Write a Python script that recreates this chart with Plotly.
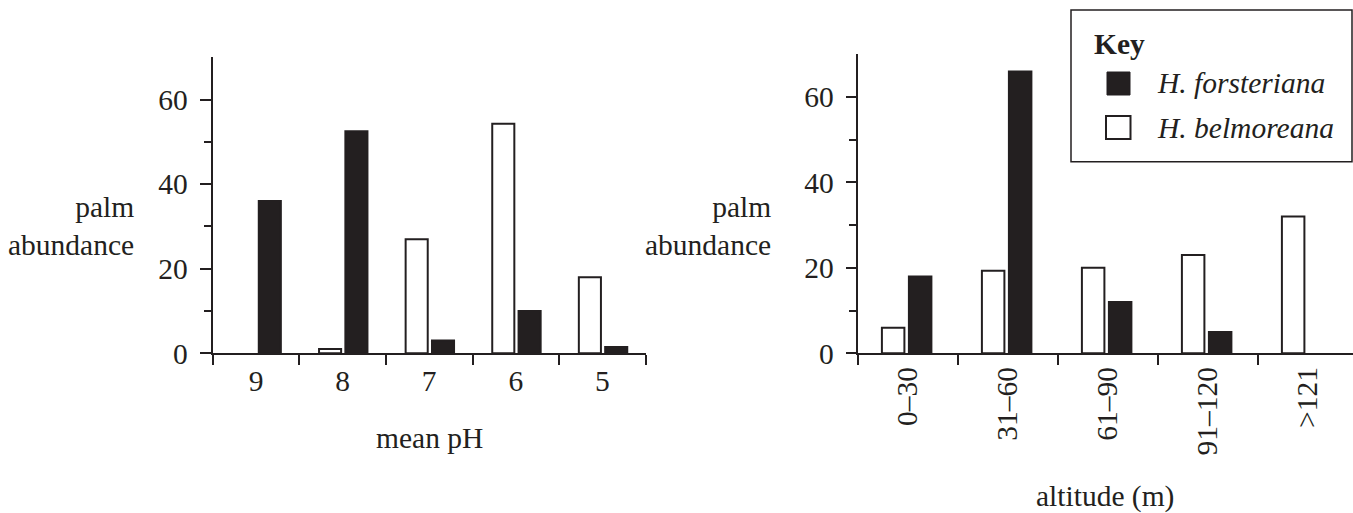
import plotly.graph_objects as go

# ---------------- data ----------------
ph_categories = ["9", "8", "7", "6", "5"]
ph_forsteriana = [36, 52.5, 3, 10, 1.5]
ph_belmoreana = [0, 1, 27, 54.3, 18]

alt_categories = ["0–30", "31–60", "61–90", "91–120", ">121"]
alt_forsteriana = [18, 66, 12, 5, 0]
alt_belmoreana = [6, 19.3, 20, 23, 32]

y_ticks = [0, 20, 40, 60]
y_minor = [10, 30, 50]

legend_title = "Key"
name_f = "H. forsteriana"
name_b = "H. belmoreana"

# ---------------- style ----------------
W, H = 1353, 513
INK = "#231f20"
FONT = "'Liberation Serif', 'Times New Roman', Times, 'DejaVu Serif', serif"
FS = 29.5


def px(x):
    return x / W


def py(y):
    return (H - y) / H


def outline(values):
    # no outline for empty (zero) bars
    return [0 if v == 0 else 2 for v in values]


fig = go.Figure()

# left chart bars
fig.add_trace(go.Bar(x=ph_categories, y=ph_belmoreana, xaxis="x", yaxis="y",
                     marker=dict(color="white", line=dict(color=INK, width=outline(ph_belmoreana))),
                     width=0.255, offset=-0.272, showlegend=False, name=name_b))
fig.add_trace(go.Bar(x=ph_categories, y=ph_forsteriana, xaxis="x", yaxis="y",
                     marker=dict(color=INK, line=dict(color=INK, width=outline(ph_forsteriana))),
                     width=0.255, offset=0.032, showlegend=False, name=name_f))
# right chart bars
fig.add_trace(go.Bar(x=alt_categories, y=alt_belmoreana, xaxis="x2", yaxis="y2",
                     marker=dict(color="white", line=dict(color=INK, width=outline(alt_belmoreana))),
                     width=0.225, offset=-0.258, showlegend=False, name=name_b))
fig.add_trace(go.Bar(x=alt_categories, y=alt_forsteriana, xaxis="x2", yaxis="y2",
                     marker=dict(color=INK, line=dict(color=INK, width=outline(alt_forsteriana))),
                     width=0.225, offset=0.012, showlegend=False, name=name_f))

tickfont = dict(family=FONT, size=FS, color=INK)

common_x = dict(type="category", tickson="boundaries", ticks="outside", ticklen=10,
                tickwidth=2, tickcolor=INK, showline=True, linewidth=2, linecolor=INK,
                showgrid=False, zeroline=False, tickfont=tickfont, fixedrange=True,
                automargin=False)
common_y = dict(range=[0, 70], tickvals=y_ticks, ticks="outside", ticklen=11,
                tickwidth=2, tickcolor=INK, showline=True, linewidth=2, linecolor=INK,
                showgrid=False, zeroline=False, tickfont=tickfont, ticklabelstandoff=6,
                minor=dict(tickvals=y_minor, ticks="outside", ticklen=7, tickwidth=2,
                           tickcolor=INK, showgrid=False),
                fixedrange=True, automargin=False)

fig.update_layout(
    width=W, height=H,
    margin=dict(l=0, r=0, t=0, b=0, pad=0, autoexpand=False),
    paper_bgcolor="white", plot_bgcolor="white",
    barmode="overlay",
    showlegend=False,
    font=dict(family=FONT, size=FS, color=INK),
    xaxis=dict(common_x, domain=[px(212.7), px(645.7)], range=[-0.5, 4.5], anchor="y"),
    yaxis=dict(common_y, domain=[py(353.3), py(57.3)], anchor="x"),
    xaxis2=dict(common_x, domain=[px(857.7), 1.0], range=[-0.5, 4.453], anchor="y2",
                tickangle=-90),
    yaxis2=dict(common_y, domain=[py(353.3), py(54.3)], anchor="x2", ticklen=10),
)

ann = []
ann.append(dict(text="palm<br>abundance", x=px(136), y=py(226), xref="paper", yref="paper",
                xanchor="right", yanchor="middle", align="right", showarrow=False))
ann.append(dict(text="palm<br>abundance", x=px(773), y=py(226), xref="paper", yref="paper",
                xanchor="right", yanchor="middle", align="right", showarrow=False))
ann.append(dict(text="mean pH", x=px(429), y=py(438), xref="paper", yref="paper",
                xanchor="center", yanchor="middle", showarrow=False))
ann.append(dict(text="altitude (m)", x=px(1105), y=py(496), xref="paper", yref="paper",
                xanchor="center", yanchor="middle", showarrow=False))
# key box
ann.append(dict(text="<b>" + legend_title + "</b>", x=px(1092), y=py(44), xref="paper", yref="paper",
                xanchor="left", yanchor="middle", showarrow=False))
ann.append(dict(text="<i>" + name_f + "</i>", x=px(1155), y=py(83), xref="paper", yref="paper",
                xanchor="left", yanchor="middle", showarrow=False))
ann.append(dict(text="<i>" + name_b + "</i>", x=px(1155), y=py(128), xref="paper", yref="paper",
                xanchor="left", yanchor="middle", showarrow=False))

shapes = [
    dict(type="rect", xref="paper", yref="paper", x0=px(1071), x1=px(1352), y0=py(161.7), y1=py(10),
         line=dict(color=INK, width=1.5), fillcolor="rgba(0,0,0,0)"),
    dict(type="rect", xref="paper", yref="paper", x0=px(1107), x1=px(1130), y0=py(95), y1=py(72),
         line=dict(color=INK, width=1), fillcolor=INK),
    dict(type="rect", xref="paper", yref="paper", x0=px(1106), x1=px(1130.5), y0=py(139), y1=py(116),
         line=dict(color=INK, width=2), fillcolor="white"),
]

fig.update_layout(annotations=ann, shapes=shapes)

fig.write_html(
    "out.html",
    config={"displayModeBar": False, "responsive": False},
    post_script="document.body.style.margin='0';document.body.style.overflow='hidden';",
)
